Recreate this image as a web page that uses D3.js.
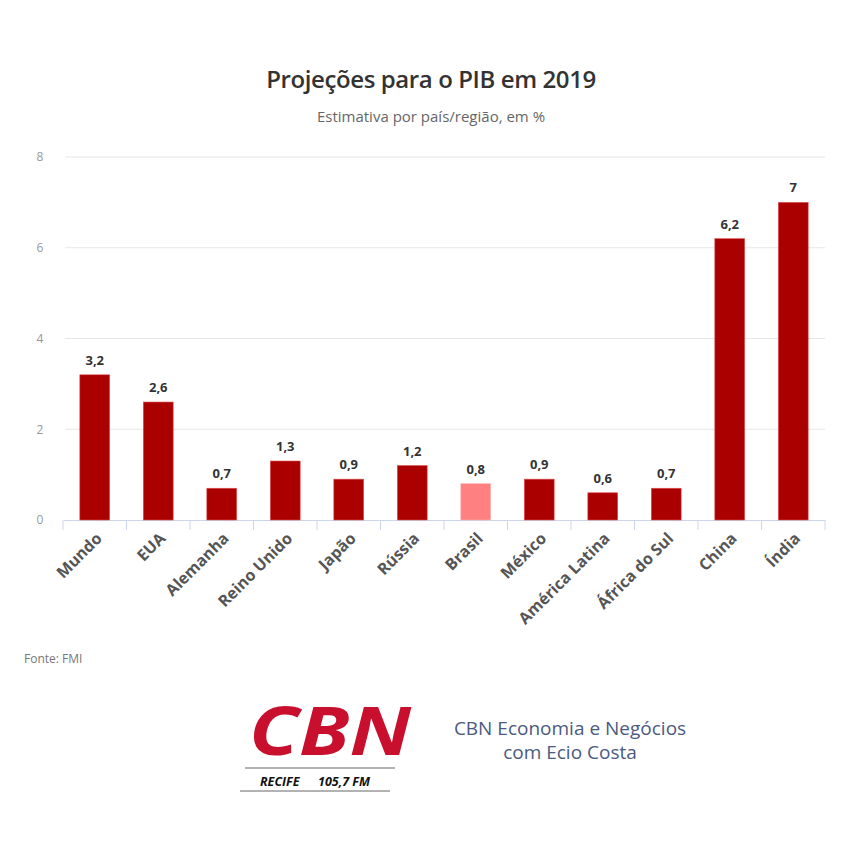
<!DOCTYPE html>
<html>
<head>
<meta charset="utf-8">
<script src="https://cdn.jsdelivr.net/npm/d3@7"></script>
<style>
  body { margin: 0; background: #fff; }
  text { font-family: "Open Sans", sans-serif; }
</style>
</head>
<body>
<svg width="850" height="846"></svg>
<script>
const categories = ["Mundo", "EUA", "Alemanha", "Reino Unido", "Japão", "Rússia", "Brasil", "México", "América Latina", "África do Sul", "China", "Índia"];
const values = [3.2, 2.6, 0.7, 1.3, 0.9, 1.2, 0.8, 0.9, 0.6, 0.7, 6.2, 7];
const highlight = ["Brasil"];
const yTicks = [0, 2, 4, 6, 8];

const svg = d3.select("svg");
const margin = { top: 157, right: 25, bottom: 326, left: 63 };
const width = +svg.attr("width") - margin.left - margin.right;
const height = +svg.attr("height") - margin.top - margin.bottom;
const chart = svg.append("g").attr("transform", `translate(${margin.left},${margin.top})`);

const fmt = v => String(v).replace(".", ",");

const x = d3.scaleBand()
  .domain(categories)
  .range([0, width])
  .paddingInner(0.53)
  .paddingOuter(0.265);

const y = d3.scaleLinear()
  .domain([0, 8])
  .range([height, 0]);

// Title
svg.append("text")
  .attr("x", 431)
  .attr("y", 88)
  .attr("text-anchor", "middle")
  .attr("font-size", "24px")
  .attr("font-weight", "600")
  .attr("letter-spacing", "-0.4")
  .attr("fill", "#333")
  .text("Projeções para o PIB em 2019");

svg.append("text")
  .attr("x", 431)
  .attr("y", 122)
  .attr("text-anchor", "middle")
  .attr("font-size", "15px")
  .attr("fill", "#666")
  .text("Estimativa por país/região, em %");

// Gridlines
chart.append("g")
  .selectAll("line")
  .data(yTicks.filter(t => t > 0))
  .enter()
  .append("line")
  .attr("x1", 2)
  .attr("x2", width)
  .attr("y1", d => y(d))
  .attr("y2", d => y(d))
  .attr("stroke", "#e6e6e6")
  .attr("stroke-width", 1);

// Y axis labels
const yAxis = chart.append("g")
  .call(d3.axisLeft(y).tickValues(yTicks).tickSize(0).tickPadding(20));
yAxis.select(".domain").remove();
yAxis.selectAll("text")
  .attr("font-family", "Open Sans, sans-serif")
  .attr("font-size", "12px")
  .attr("fill", "#999")
  .attr("text-anchor", "middle")
  .attr("dx", "-3");

// X axis
const xAxis = chart.append("g")
  .attr("transform", `translate(0,${height})`)
  .call(d3.axisBottom(x).tickSize(0).tickPadding(10));
xAxis.select(".domain").attr("stroke", "#ccd6eb");
xAxis.selectAll("text")
  .attr("font-family", "Open Sans, sans-serif")
  .attr("font-size", "16px")
  .attr("font-weight", "bold")
  .attr("fill", "#555")
  .attr("transform", "rotate(-45)")
  .attr("text-anchor", "end")
  .attr("dx", "-0.5em")
  .attr("dy", "0.6em");

// Tick separators between bands
chart.append("g")
  .attr("transform", `translate(0,${height})`)
  .selectAll("line")
  .data(d3.range(categories.length + 1))
  .enter()
  .append("line")
  .attr("x1", i => i * width / categories.length)
  .attr("x2", i => i * width / categories.length)
  .attr("y1", 0)
  .attr("y2", 10)
  .attr("stroke", "#ccd6eb");

// Bars
chart.selectAll("rect.bar")
  .data(categories)
  .enter()
  .append("rect")
  .attr("class", "bar")
  .attr("x", d => x(d))
  .attr("y", (d, i) => y(values[i]))
  .attr("width", x.bandwidth())
  .attr("height", (d, i) => height - y(values[i]))
  .attr("fill", d => highlight.includes(d) ? "#ff8080" : "#aa0000")
  .attr("stroke", d => highlight.includes(d) ? "#ffb0b0" : "#e05050")
  .attr("stroke-width", 0.6);

// Data labels
chart.selectAll("text.label")
  .data(categories)
  .enter()
  .append("text")
  .attr("class", "label")
  .attr("x", d => x(d) + x.bandwidth() / 2)
  .attr("y", (d, i) => y(values[i]) - 10)
  .attr("text-anchor", "middle")
  .attr("font-size", "13px")
  .attr("font-weight", "bold")
  .attr("fill", "#333")
  .text((d, i) => fmt(values[i]));

// Source
svg.append("text")
  .attr("x", 24)
  .attr("y", 663)
  .attr("font-size", "12px")
  .attr("fill", "#777")
  .text("Fonte: FMI");

// Logo block
const logo = svg.append("g");
logo.append("text")
  .attr("x", 249)
  .attr("y", 755)
  .attr("font-family", "Liberation Sans, Arial, sans-serif")
  .attr("font-size", "66px")
  .attr("font-weight", "bold")
  .attr("font-style", "italic")
  .attr("fill", "#c8102e")
  .attr("textLength", 162)
  .attr("lengthAdjust", "spacingAndGlyphs")
  .text("CBN");

logo.append("line")
  .attr("x1", 245).attr("x2", 395)
  .attr("y1", 768).attr("y2", 768)
  .attr("stroke", "#666").attr("stroke-width", 1);

logo.append("text")
  .attr("x", 260)
  .attr("y", 786)
  .attr("font-family", "Liberation Sans, Arial, sans-serif")
  .attr("font-size", "12.5px")
  .attr("font-weight", "bold")
  .attr("font-style", "italic")
  .attr("fill", "#111")
  .text("RECIFE");

logo.append("text")
  .attr("x", 318)
  .attr("y", 786)
  .attr("font-family", "Liberation Sans, Arial, sans-serif")
  .attr("font-size", "12.5px")
  .attr("font-weight", "bold")
  .attr("font-style", "italic")
  .attr("fill", "#111")
  .text("105,7 FM");

logo.append("line")
  .attr("x1", 240).attr("x2", 390)
  .attr("y1", 791).attr("y2", 791)
  .attr("stroke", "#666").attr("stroke-width", 1);

logo.append("text")
  .attr("x", 570)
  .attr("y", 735)
  .attr("text-anchor", "middle")
  .attr("font-size", "19px")
  .attr("fill", "#4a5a80")
  .text("CBN Economia e Negócios");

logo.append("text")
  .attr("x", 570)
  .attr("y", 759)
  .attr("text-anchor", "middle")
  .attr("font-size", "19px")
  .attr("fill", "#4a5a80")
  .text("com Ecio Costa");
</script>
</body>
</html>
